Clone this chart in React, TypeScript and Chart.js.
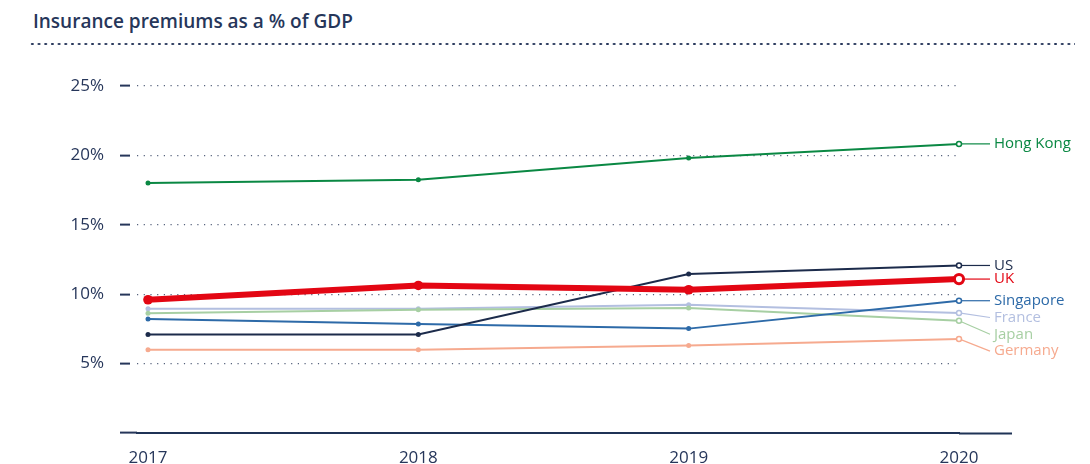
import React, { useEffect, useRef } from 'react';
import { Chart, registerables } from 'chart.js';

Chart.register(...registerables);

// ---------- data ----------
const YEARS = [2017, 2018, 2019, 2020];
const Y_TICKS = [0, 5, 10, 15, 20, 25];

const UK = [9.6, 10.63, 10.32, 11.09];
const HONG_KONG = [18.02, 18.24, 19.82, 20.83];
const US = [7.09, 7.09, 11.45, 12.07];
const SINGAPORE = [8.22, 7.86, 7.52, 9.53];
const JAPAN = [8.62, 8.88, 9.0, 8.09];
const FRANCE = [8.96, 8.96, 9.24, 8.65];
const GERMANY = [6.0, 6.0, 6.3, 6.78];

const TITLE = 'Insurance premiums as a % of GDP';

// ---------- styles ----------
const NAVY = '#26365a';
const FONT = "'Open Sans', 'Noto Sans', sans-serif";

type SeriesDef = { label: string; values: number[]; color: string; width: number; r: number; lastR: number; lastBW: number };

const SERIES: SeriesDef[] = [
  { label: 'UK', values: UK, color: '#e30613', width: 6, r: 4.8, lastR: 4.6, lastBW: 3 },
  { label: 'Hong Kong', values: HONG_KONG, color: '#0a8843', width: 2, r: 2.5, lastR: 2.5, lastBW: 1.5 },
  { label: 'US', values: US, color: '#1c2b4b', width: 2, r: 2.5, lastR: 2.5, lastBW: 1.5 },
  { label: 'Singapore', values: SINGAPORE, color: '#2d6aa8', width: 2, r: 2.5, lastR: 2.5, lastBW: 1.5 },
  { label: 'Japan', values: JAPAN, color: '#a7cfa3', width: 2, r: 2.5, lastR: 2.5, lastBW: 1.5 },
  { label: 'France', values: FRANCE, color: '#b3bfe0', width: 2, r: 2.5, lastR: 2.5, lastBW: 1.5 },
  { label: 'Germany', values: GERMANY, color: '#f6aa8f', width: 2, r: 2.5, lastR: 2.5, lastBW: 1.5 },
];

const endLabels = {
  id: 'endLabels',
  beforeDatasetsDraw(chart: any) {
    const ctx = chart.ctx;
    const right = chart.chartArea.right;
    const items = chart.data.datasets.map((ds: any, i: number) => {
      const meta = chart.getDatasetMeta(i);
      const pt = meta.data[meta.data.length - 1];
      return { label: ds.label, color: ds.borderColor, x: pt.x, y: pt.y, ly: pt.y };
    }).sort((a: any, b: any) => a.y - b.y);
    for (let i = 1; i < items.length; i++) {
      const prev = items[i - 1];
      if (items[i].y - prev.ly < 13) items[i].ly = prev.ly + 16.8;
    }
    ctx.save();
    ctx.font = `15px ${FONT}`;
    ctx.textBaseline = 'middle';
    ctx.textAlign = 'left';
    items.forEach((it: any) => {
      ctx.strokeStyle = it.color;
      ctx.lineWidth = 1.2;
      ctx.beginPath();
      ctx.moveTo(it.x, it.y);
      ctx.lineTo(right + 31, it.ly);
      ctx.stroke();
      ctx.fillStyle = it.color;
      ctx.fillText(it.label, right + 35, it.ly);
    });
    ctx.restore();
  },
};

export default function App() {
  const ref = useRef<HTMLCanvasElement | null>(null);

  useEffect(() => {
    document.body.style.margin = '0';
    const canvas = ref.current;
    if (!canvas) return;
    const datasets = SERIES.map((s) => {
      const n = s.values.length;
      return {
        label: s.label,
        data: s.values.map((v, i) => ({ x: YEARS[i], y: v })),
        borderColor: s.color,
        backgroundColor: s.color,
        borderWidth: s.width,
        tension: 0,
        clip: false,
        pointRadius: s.values.map((_, i) => (i === n - 1 ? s.lastR : s.r)),
        pointBackgroundColor: s.values.map((_, i) => (i === n - 1 ? '#ffffff' : s.color)),
        pointBorderColor: s.color,
        pointBorderWidth: s.values.map((_, i) => (i === n - 1 ? s.lastBW : 0)),
      };
    });

    const chart = new Chart(canvas, {
      type: 'line',
      data: { datasets },
      plugins: [endLabels],
      options: {
        animation: false,
        responsive: false,
        events: [],
        layout: { padding: { top: 86, bottom: 0, left: 0, right: 0 } },
        plugins: { legend: { display: false }, tooltip: { enabled: false }, title: { display: false } },
        scales: {
          x: {
            type: 'linear',
            min: YEARS[0] - 11 / 270.33,
            max: YEARS[YEARS.length - 1],
            afterBuildTicks: (scale: any) => { scale.ticks = YEARS.map((v) => ({ value: v })); },
            afterFit: (scale: any) => { scale.height = 31; },
            grid: { display: false, drawTicks: false },
            border: { display: true, color: '#1f3356', width: 2 },
            ticks: {
              padding: 15,
              color: NAVY,
              font: { family: FONT, size: 17 },
              maxRotation: 0,
              autoSkip: false,
              callback: (v: any) => String(v),
            },
          },
          y: {
            type: 'linear',
            position: 'left',
            min: 0,
            max: 25,
            afterBuildTicks: (scale: any) => { scale.ticks = Y_TICKS.map((v) => ({ value: v })); },
            afterFit: (scale: any) => { scale.width = 137; },
            grid: {
              display: true,
              drawTicks: true,
              tickLength: 17,
              tickWidth: 2,
              tickColor: NAVY,
              tickBorderDash: (c: any) => (c.tick && c.tick.value === 0 ? [] : [10, 40]),
              color: (c: any) => (c.tick && c.tick.value === 0 ? 'rgba(0,0,0,0)' : '#56627c'),
              lineWidth: 1.2,
            },
            border: { display: false, dash: [1.2, 5.5] },
            ticks: {
              padding: 16,
              color: NAVY,
              font: { family: FONT, size: 17 },
              callback: (v: any) => (v === 0 ? '' : `${v}%`),
            },
          },
          yRight: {
            type: 'linear',
            position: 'right',
            min: 0,
            max: 25,
            afterBuildTicks: (scale: any) => { scale.ticks = [{ value: 0 }]; },
            afterFit: (scale: any) => { scale.width = 131; },
            grid: {
              display: true,
              drawOnChartArea: false,
              drawTicks: true,
              tickLength: 53,
              tickWidth: 2,
              tickColor: '#1f3356',
            },
            border: { display: false },
            ticks: { display: false },
          },
        },
      } as any,
    });
    return () => chart.destroy();
  }, []);

  return (
    <div style={{ position: 'relative', width: 1090, height: 464, background: '#ffffff' }}>
      <div
        style={{
          position: 'absolute',
          left: 33,
          top: 7,
          fontFamily: FONT,
          fontWeight: 600,
          fontSize: 19,
          lineHeight: '28px',
          color: NAVY,
          whiteSpace: 'nowrap',
        }}
      >
        {TITLE}
      </div>
      <div
        style={{
          position: 'absolute',
          left: 29,
          top: 42,
          width: 1046,
          height: 4,
          backgroundImage: `radial-gradient(circle, ${NAVY} 1px, rgba(0,0,0,0) 1.4px)`,
          backgroundSize: '6.7px 4px',
          backgroundRepeat: 'repeat-x',
        }}
      />
      <canvas ref={ref} width={1090} height={464} style={{ position: 'absolute', left: 0, top: 0, width: 1090, height: 464 }} />
    </div>
  );
}
